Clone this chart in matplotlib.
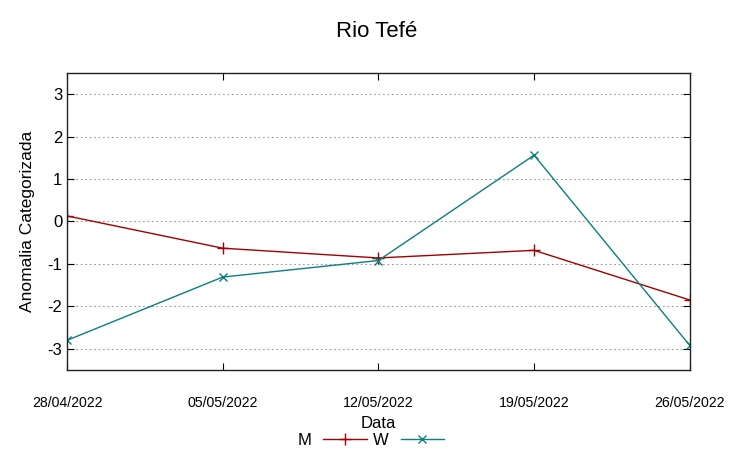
import matplotlib.pyplot as plt
import pandas as pd

datas = ['28/04/2022', '05/05/2022', '12/05/2022', '19/05/2022', '26/05/2022']
m_vals = [0.13, -0.63, -0.86, -0.68, -1.85]
w_vals = [-2.80, -1.31, -0.92, 1.56, -2.92]

x = pd.to_datetime(datas, format='%d/%m/%Y')

plt.rcParams['font.family'] = ['Liberation Sans', 'DejaVu Sans']

fig = plt.figure(figsize=(7.53, 4.58), dpi=100)
ax = fig.add_axes([0.089, 0.192, 0.827, 0.649])

ax.plot(x, m_vals, color='#a30000', linewidth=1, marker='+', markersize=8,
        markeredgewidth=1, label='M')
ax.plot(x, w_vals, color='#0b7f7f', linewidth=1, marker='x', markersize=6,
        markeredgewidth=1, label='W')

ax.set_xlim(x[0], x[-1])
ax.set_ylim(-3.5, 3.5)
ax.set_yticks([-3, -2, -1, 0, 1, 2, 3])
ax.set_yticklabels(['-3', '-2', '-1', '0', '1', '2', '3'])
ax.set_xticks(x)
ax.set_xticklabels(datas, fontsize=10.2)
ax.tick_params(axis='x', direction='in', top=True, pad=19, length=5)
ax.tick_params(axis='y', direction='in', right=True, labelsize=12, length=5)
ax.yaxis.grid(True, linestyle=(0, (1.5, 2.5)), color='#999999', linewidth=0.8)
for s in ax.spines.values():
    s.set_linewidth(1)
    s.set_color('#222222')

fig.suptitle('Rio Tefé', fontsize=16, y=0.955)
ax.set_ylabel('Anomalia Categorizada', fontsize=12.5, labelpad=9)
ax.set_xlabel('Data', fontsize=12, labelpad=4)

ax.legend(loc='upper center', bbox_to_anchor=(0.488, -0.172), ncol=2, frameon=False,
          markerfirst=False, fontsize=12, handlelength=2.6, columnspacing=0.4,
          handletextpad=0.7, borderpad=0.2)

fig.savefig('out.png')
